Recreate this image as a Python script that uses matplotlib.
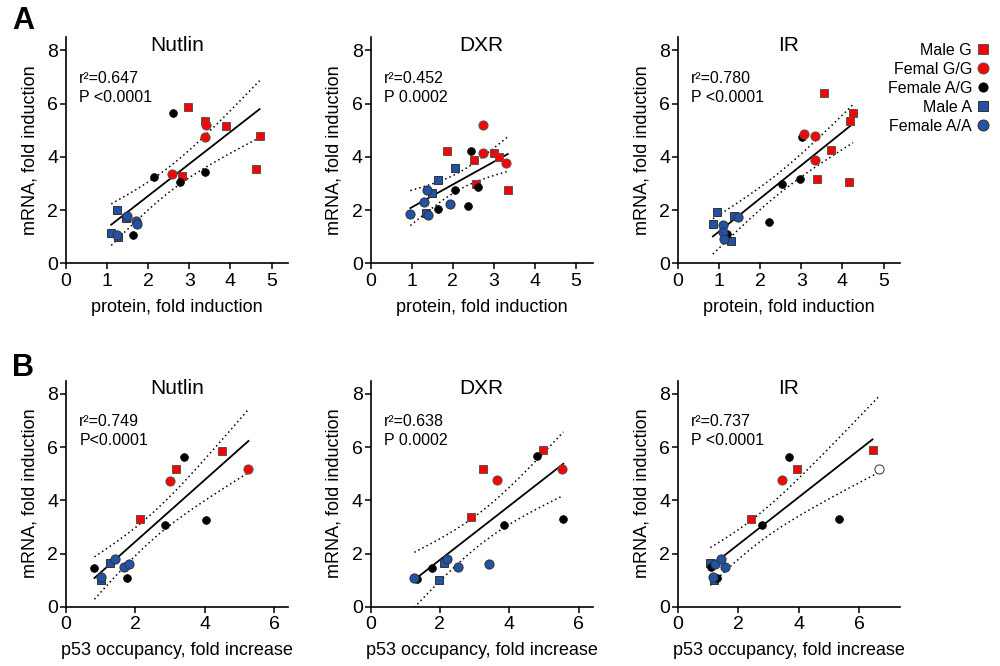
import numpy as np
import matplotlib
matplotlib.use("Agg")
import matplotlib.pyplot as plt
from matplotlib.lines import Line2D

plt.rcParams['font.family'] = ['Liberation Sans', 'DejaVu Sans']

# ---- data: x, y, group per panel ----
# groups: mg = Male G, fgg = Femal G/G, fag = Female A/G, ma = Male A, faa = Female A/A, open = open circle
nutlin_a_x = [2.97, 3.37, 3.88, 4.71, 4.62, 2.83, 3.41, 3.38, 2.58, 2.60, 2.13, 2.77, 3.37, 1.63,
              1.23, 1.45, 1.10, 1.27, 1.49, 1.71, 1.72, 1.23]
nutlin_a_y = [5.87, 5.35, 5.16, 4.79, 3.56, 3.28, 5.18, 4.75, 3.37, 5.64, 3.26, 3.06, 3.42, 1.07,
              2.00, 1.69, 1.13, 1.00, 1.79, 1.59, 1.48, 1.08]
nutlin_a_g = ['mg'] * 6 + ['fgg'] * 3 + ['fag'] * 5 + ['ma'] * 4 + ['faa'] * 4

dxr_a_x = [1.87, 2.51, 3.01, 3.12, 2.57, 3.34, 2.74, 2.74, 3.29, 2.44, 2.05, 2.61, 2.37, 1.64,
           2.05, 1.63, 1.50, 1.34, 1.38, 1.30, 1.93, 0.97, 1.39]
dxr_a_y = [4.21, 3.88, 4.14, 3.98, 2.98, 2.74, 5.21, 4.15, 3.77, 4.21, 2.74, 2.88, 2.16, 2.04,
           3.58, 3.12, 2.63, 1.90, 2.76, 2.31, 2.23, 1.87, 1.80]
dxr_a_g = ['mg'] * 6 + ['fgg'] * 3 + ['fag'] * 5 + ['ma'] * 4 + ['faa'] * 5

ir_a_x = [3.55, 4.26, 4.18, 3.71, 3.38, 4.15, 3.06, 3.33, 3.33, 3.02, 2.54, 2.97, 2.22, 1.20,
          0.95, 0.85, 1.37, 1.29, 1.09, 1.09, 1.45, 1.11]
ir_a_y = [6.39, 5.65, 5.36, 4.26, 3.18, 3.06, 4.87, 4.79, 3.87, 4.74, 2.98, 3.17, 1.55, 1.10,
          1.94, 1.47, 1.78, 0.83, 1.43, 1.17, 1.74, 0.91]
ir_a_g = ['mg'] * 6 + ['fgg'] * 3 + ['fag'] * 5 + ['ma'] * 4 + ['faa'] * 4

nutlin_b_x = [4.50, 3.18, 2.12, 2.99, 5.26, 3.39, 2.86, 4.03, 0.82, 1.76, 1.26, 1.02, 1.42, 1.66, 1.82, 1.00]
nutlin_b_y = [5.87, 5.17, 3.28, 4.74, 5.18, 5.64, 3.07, 3.27, 1.46, 1.08, 1.65, 1.00, 1.81, 1.48, 1.59, 1.10]
nutlin_b_g = ['mg'] * 3 + ['fgg'] * 2 + ['fag'] * 5 + ['ma'] * 2 + ['faa'] * 4

dxr_b_x = [4.96, 3.25, 2.89, 3.66, 5.53, 4.79, 3.85, 5.56, 1.78, 1.35, 2.12, 1.97, 2.21, 2.51, 3.41, 1.26]
dxr_b_y = [5.88, 5.18, 3.38, 4.76, 5.18, 5.66, 3.07, 3.28, 1.46, 1.06, 1.65, 1.00, 1.81, 1.49, 1.60, 1.09]
dxr_b_g = ['mg'] * 3 + ['fgg'] * 2 + ['fag'] * 5 + ['ma'] * 2 + ['faa'] * 4

ir_b_x = [6.44, 3.93, 2.41, 3.44, 6.66, 3.67, 2.79, 5.34, 1.09, 1.30, 1.07, 1.19, 1.22, 1.41, 1.57, 1.17]
ir_b_y = [5.88, 5.17, 3.28, 4.76, 5.19, 5.64, 3.07, 3.28, 1.48, 1.08, 1.65, 1.00, 1.59, 1.81, 1.48, 1.10]
ir_b_g = ['mg'] * 3 + ['fgg'] + ['open'] + ['fag'] * 5 + ['ma'] * 2 + ['faa'] * 4

stats_a = [("r²=0.647", "P <0.0001"), ("r²=0.452", "P 0.0002"), ("r²=0.780", "P <0.0001")]
stats_b = [("r²=0.749", "P<0.0001"), ("r²=0.638", "P 0.0002"), ("r²=0.737", "P <0.0001")]
titles = ["Nutlin", "DXR", "IR"]

legend_labels = ["Male G", "Femal G/G", "Female A/G", "Male A", "Female A/A"]

# two-sided 95% t values by degrees of freedom
t95 = {13: 2.160, 14: 2.145, 15: 2.131, 19: 2.093, 20: 2.086, 21: 2.080}

red = '#ff0000'
blue = '#2152a3'
style = {
    'mg':   dict(marker='s', ms=6.2, mfc=red, mec='#555555', mew=0.7),
    'ma':   dict(marker='s', ms=6.2, mfc=blue, mec='#333333', mew=0.7),
    'fag':  dict(marker='o', ms=5.6, mfc='black', mec='black', mew=0.5),
    'fgg':  dict(marker='o', ms=6.6, mfc=red, mec='#555555', mew=0.7),
    'faa':  dict(marker='o', ms=6.6, mfc=blue, mec='#333333', mew=0.7),
    'open': dict(marker='o', ms=6.6, mfc='white', mec='#333333', mew=0.7),
}
draw_order = ['mg', 'ma', 'fag', 'fgg', 'faa', 'open']


def panel(ax, x, y, g, xmax, xticks, title, stats, xlabel):
    x = np.array(x)
    y = np.array(y)
    g = np.array(g)
    fit = g != 'open'
    xf, yf = x[fit], y[fit]
    n = len(xf)
    slope, icept = np.polyfit(xf, yf, 1)
    resid = yf - (slope * xf + icept)
    s = np.sqrt(np.sum(resid ** 2) / (n - 2))
    sxx = np.sum((xf - xf.mean()) ** 2)
    xs = np.linspace(x.min(), x.max(), 100)
    yh = slope * xs + icept
    half = t95[n - 2] * s * np.sqrt(1.0 / n + (xs - xf.mean()) ** 2 / sxx)
    ax.plot(xs, yh + half, ls=(0, (1, 2)), color='black', lw=1.1, zorder=1)
    ax.plot(xs, yh - half, ls=(0, (1, 2)), color='black', lw=1.1, zorder=1)
    xl = np.array([xf.min(), xf.max()])
    ax.plot(xl, slope * xl + icept, color='black', lw=1.3, zorder=2)

    for k in draw_order:
        m = g == k
        if m.any():
            ax.plot(x[m], y[m], ls='none', zorder=3, **style[k])

    ax.set_xlim(0, xmax)
    ax.set_ylim(0, 8.5)
    ax.set_xticks(xticks)
    ax.set_yticks([0, 2, 4, 6, 8])
    for sp in ['top', 'right']:
        ax.spines[sp].set_visible(False)
    for sp in ['left', 'bottom']:
        ax.spines[sp].set_linewidth(1.2)
    ax.tick_params(direction='out', length=4, width=1.1, pad=1.5, labelsize=14)
    ax.tick_params(axis='x', pad=3)
    ax.text(0.5, 0.965, title, transform=ax.transAxes, ha='center', va='center', fontsize=15)
    ax.text(0.06, 0.818, stats[0], transform=ax.transAxes, ha='left', va='center', fontsize=11.5)
    ax.text(0.06, 0.735, stats[1], transform=ax.transAxes, ha='left', va='center', fontsize=11.5)
    ax.set_xlabel(xlabel, fontsize=13)
    ax.set_ylabel("mRNA, fold induction", fontsize=13)
    ax.xaxis.set_label_coords(0.5, -0.158)
    ax.yaxis.set_label_coords(-0.125, 0.5)


fig = plt.figure(figsize=(10, 6.66), dpi=100)
lefts = [0.066, 0.3705, 0.678]
w, h = 0.222, 0.3395

rows = [
    (0.6047, [(nutlin_a_x, nutlin_a_y, nutlin_a_g), (dxr_a_x, dxr_a_y, dxr_a_g), (ir_a_x, ir_a_y, ir_a_g)],
     [5.4, 5.4, 5.4], [0, 1, 2, 3, 4, 5], stats_a, "protein, fold induction"),
    (0.089, [(nutlin_b_x, nutlin_b_y, nutlin_b_g), (dxr_b_x, dxr_b_y, dxr_b_g), (ir_b_x, ir_b_y, ir_b_g)],
     [6.4, 6.4, 7.35], [0, 2, 4, 6], stats_b, "p53 occupancy, fold increase"),
]

for bottom, sets, xmaxes, xticks, stats, xlabel in rows:
    for i, (x, y, g) in enumerate(sets):
        ax = fig.add_axes([lefts[i], bottom, w, h])
        panel(ax, x, y, g, xmaxes[i], xticks, titles[i], stats[i], xlabel)

fig.text(0.012, 0.968, "A", fontsize=22, fontweight='bold', va='center', ha='left')
fig.text(0.012, 0.447, "B", fontsize=22, fontweight='bold', va='center', ha='left')

handles = []
for k in ['mg', 'fgg', 'fag', 'ma', 'faa']:
    st = dict(style[k])
    st['ms'] = st['ms'] * 1.2
    handles.append(Line2D([], [], ls='none', **st))
fig.legend(handles, legend_labels, loc='upper right', bbox_to_anchor=(0.996, 0.945),
           markerfirst=False, frameon=False, handlelength=0.8, handletextpad=0.3,
           labelspacing=0.25, fontsize=11.5, borderaxespad=0)

fig.savefig("out.png", dpi=100)
